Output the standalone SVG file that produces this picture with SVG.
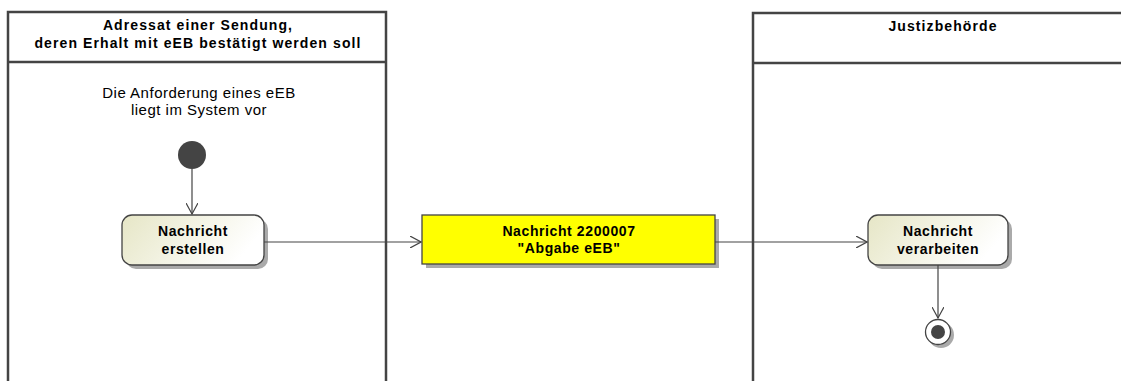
<svg xmlns="http://www.w3.org/2000/svg" width="1121" height="381" viewBox="0 0 1121 381">
<defs>
<linearGradient id="actGrad" x1="0" y1="0" x2="1" y2="0.3">
<stop offset="0" stop-color="#e6e6c6"/>
<stop offset="1" stop-color="#ffffff"/>
</linearGradient>
<marker id="arr" viewBox="0 0 12 12" refX="11" refY="6" markerWidth="12" markerHeight="12" markerUnits="userSpaceOnUse" orient="auto">
<path d="M0,0 L11,6 L0,12" fill="none" stroke="#444" stroke-width="1.2"/>
</marker>
</defs>
<style>
.lane{fill:none;stroke:#444;stroke-width:2.5}
.hdr{font-family:"Liberation Sans",Arial,sans-serif;font-size:14px;font-weight:bold;fill:#000;text-anchor:middle;letter-spacing:1.1px}
.note{font-family:"Liberation Sans",Arial,sans-serif;font-size:15px;fill:#000;text-anchor:middle;letter-spacing:0.5px}
.lbl{font-family:"Liberation Sans",Arial,sans-serif;font-size:14px;font-weight:bold;fill:#000;text-anchor:middle;letter-spacing:0.6px}
.act{fill:url(#actGrad);stroke:#444;stroke-width:1.3}
.shadow{fill:#aaa}
.conn{stroke:#444;stroke-width:1.2;fill:none;marker-end:url(#arr)}
</style>
<rect width="1121" height="381" fill="#fff"/>
<g id="lane-adressat">
<path class="lane" d="M8,381 V12 H386 V381 M8,62 H386"/>
<text class="hdr" x="198" y="30">Adressat einer Sendung,</text>
<text class="hdr" x="198" y="48">deren Erhalt mit eEB bestätigt werden soll</text>
<text class="note" x="199" y="98">Die Anforderung eines eEB</text>
<text class="note" x="199" y="115">liegt im System vor</text>
</g>
<g id="lane-justiz">
<path class="lane" d="M753,381 V13 H1121 M753,63 H1121"/>
<text class="hdr" x="943" y="31">Justizbehörde</text>
</g>
<g id="start">
<circle cx="192" cy="155" r="14" fill="#444"/>
</g>
<g id="act-erstellen">
<rect class="shadow" x="126" y="219" width="142" height="50" rx="10"/>
<rect class="act" x="122" y="215" width="142" height="50" rx="10"/>
<text class="lbl" x="193" y="236">Nachricht</text>
<text class="lbl" x="193" y="254">erstellen</text>
</g>
<g id="msg">
<rect class="shadow" x="426" y="219" width="293" height="49"/>
<rect x="422" y="215" width="293" height="49" fill="#ffff00" stroke="#444" stroke-width="1.3"/>
<text class="lbl" x="569" y="236">Nachricht 2200007</text>
<text class="lbl" x="569" y="253">"Abgabe eEB"</text>
</g>
<g id="act-verarbeiten">
<rect class="shadow" x="872" y="219" width="140" height="50" rx="10"/>
<rect class="act" x="868" y="215" width="140" height="50" rx="10"/>
<text class="lbl" x="938" y="236">Nachricht</text>
<text class="lbl" x="938" y="254">verarbeiten</text>
</g>
<g id="end">
<circle cx="941" cy="335" r="13" fill="#aaa"/>
<circle cx="938" cy="332" r="12.5" fill="#fff" stroke="#444" stroke-width="1.3"/>
<circle cx="938" cy="332" r="7" fill="#444"/>
</g>
<g id="connectors">
<line class="conn" x1="192" y1="169" x2="192" y2="214"/>
<line class="conn" x1="264" y1="242" x2="421" y2="242"/>
<line class="conn" x1="715" y1="242" x2="867" y2="242"/>
<line class="conn" x1="938" y1="265" x2="938" y2="318"/>
</g>
</svg>
